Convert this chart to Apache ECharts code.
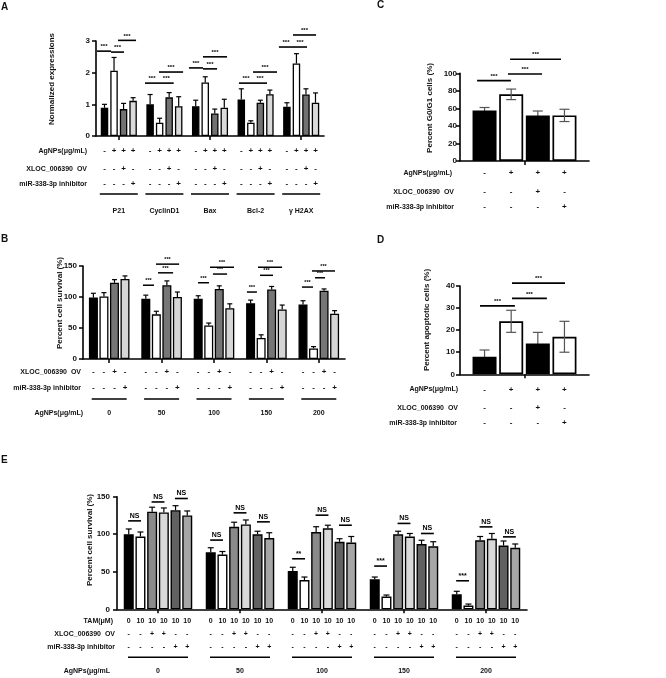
<!DOCTYPE html>
<html><head><meta charset="utf-8">
<script src="https://cdn.jsdelivr.net/npm/echarts@6/dist/echarts.min.js"></script>
<style>html,body{margin:0;padding:0;background:#fff}#c{width:666px;height:678px}</style>
</head><body><div id="c"></div>
<script>
const FONT = '"Liberation Sans", Arial, Helvetica, sans-serif';

// ---------- Panel A ----------
const A_categories = ['P21', 'CyclinD1', 'Bax', 'Bcl-2', 'γ H2AX'];
const A_control = [0.89, 1.00, 0.94, 1.15, 0.92];
const A_agnps = [2.06, 0.42, 1.69, 0.42, 2.29];
const A_xlocOV = [0.85, 1.22, 0.71, 1.05, 1.31];
const A_inhibitor = [1.11, 0.94, 0.89, 1.32, 1.05];
const A_control_err = [0.11, 0.31, 0.19, 0.34, 0.13];
const A_agnps_err = [0.42, 0.14, 0.18, 0.06, 0.31];
const A_xlocOV_err = [0.18, 0.15, 0.14, 0.08, 0.18];
const A_inhibitor_err = [0.10, 0.30, 0.27, 0.13, 0.31];
const A_yTicks = [0, 1, 2, 3];
const A_row_agnps = ['-', '+', '+', '+'];
const A_row_xloc = ['-', '-', '+', '-'];
const A_row_mir = ['-', '-', '-', '+'];
// [group, fromBar, toBar, y]
const A_sig = [
  [0, -0.79, 0.68, 2.68], [0, 0.68, 2.05, 2.65], [0, 1.42, 3.31, 3.02],
  [1, -0.54, 0.93, 1.67], [1, 0.93, 2.48, 1.67], [1, 0.93, 3.46, 2.02],
  [2, -0.71, 0.76, 2.15], [2, 0.76, 2.24, 2.12], [2, 0.76, 3.29, 2.50],
  [3, -0.25, 1.23, 1.67], [3, 1.23, 2.70, 1.67], [3, 1.23, 3.75, 2.02],
  [4, -0.84, 0.64, 2.81], [4, 0.64, 2.11, 2.81], [4, 0.64, 3.06, 3.19]
];
const A_sigLabels = A_sig.map(() => '***');

// ---------- Panel B ----------
const B_categories = ['0', '50', '100', '150', '200'];
const B_control = [99, 97, 97, 90, 88];
const B_agnps = [101, 72, 54, 34, 17];
const B_xlocOV = [123, 119, 113, 112, 110];
const B_inhibitor = [129, 100, 82, 80, 73];
const B_control_err = [7, 6, 5, 5, 6];
const B_agnps_err = [6, 5, 4, 5, 3];
const B_xlocOV_err = [5, 7, 5, 5, 3];
const B_inhibitor_err = [5, 8, 7, 7, 5];
const B_yTicks = [0, 50, 100, 150];
const B_row_xloc = ['-', '-', '+', '-'];
const B_row_mir = ['-', '-', '-', '+'];
const B_sig = [
  [1, -0.27, 0.78, 119], [1, 1.16, 2.59, 139], [1, 0.97, 3.16, 153],
  [2, -0.02, 1.02, 123], [2, 1.40, 2.74, 137], [2, 1.12, 3.40, 148],
  [3, -0.35, 0.60, 108], [3, 0.89, 2.13, 135], [3, 0.70, 2.99, 148],
  [4, -0.10, 0.95, 116], [4, 1.14, 2.09, 131], [4, 0.85, 3.04, 142]
];
const B_sigLabels = B_sig.map(() => '***');

// ---------- Panel C ----------
const C_values = [57.5, 76, 52, 52];
const C_err = [3.5, 6, 5, 7];
const C_yTicks = [0, 20, 40, 60, 80, 100];
const C_row_agnps = ['-', '+', '+', '+'];
const C_row_xloc = ['-', '-', '+', '-'];
const C_row_mir = ['-', '-', '-', '+'];
const C_sig = [[0, -0.28, 0.99, 91.6], [0, 0.88, 2.16, 99.2], [0, 0.96, 2.87, 116]];
const C_sigLabels = ['***', '***', '***'];

// ---------- Panel D ----------
const D_values = [8, 24, 14, 17];
const D_err = [3, 5, 5, 7];
const D_yTicks = [0, 10, 20, 30, 40];
const D_row_agnps = ['-', '+', '+', '+'];
const D_row_xloc = ['-', '-', '+', '-'];
const D_row_mir = ['-', '-', '-', '+'];
const D_sig = [[0, -0.17, 1.14, 31], [0, 1.03, 2.34, 34.4], [0, 1.03, 3.02, 41.3]];
const D_sigLabels = ['***', '***', '***'];

// ---------- Panel E ----------
const E_categories = ['0', '50', '100', '150', '200'];
const E_s1 = [100, 76, 51, 40, 20];
const E_s2 = [97, 73, 39, 17, 5];
const E_s3 = [130, 110, 103, 100, 92];
const E_s4 = [129, 113, 108, 97, 94];
const E_s5 = [132, 100, 90, 87, 85];
const E_s6 = [125, 95, 89, 84, 82];
const E_s1_err = [7, 6, 5, 3, 4];
const E_s2_err = [6, 4, 4, 2, 2];
const E_s3_err = [6, 6, 7, 4, 5];
const E_s4_err = [6, 6, 4, 4, 7];
const E_s5_err = [6, 4, 4, 5, 6];
const E_s6_err = [6, 7, 8, 6, 5];
const E_yTicks = [0, 50, 100, 150];
const E_row_tam = ['0', '10', '10', '10', '10', '10'];
const E_row_xloc = ['-', '-', '+', '+', '-', '-'];
const E_row_mir = ['-', '-', '-', '-', '+', '+'];
const E_sig = [
  [0, -0.05, 1.05, 117.8], [0, 1.95, 3.05, 143], [0, 3.95, 5.05, 147.6],
  [1, -0.05, 1.05, 92.2], [1, 1.95, 3.05, 128.5], [1, 3.95, 5.05, 116.5],
  [2, -0.05, 1.05, 67.3], [2, 1.95, 3.05, 125.4], [2, 3.95, 5.05, 112],
  [3, -0.05, 1.05, 57.6], [3, 1.95, 3.05, 114.4], [3, 3.95, 5.05, 101],
  [4, -0.05, 1.05, 38], [4, 1.95, 3.05, 109.8], [4, 3.95, 5.05, 96.5]
];
const E_sigLabels = ['NS', 'NS', 'NS', 'NS', 'NS', 'NS', '**', 'NS', 'NS', '***', 'NS', 'NS', '***', 'NS', 'NS'];

// ---------- helpers ----------
function offX(i, n, step) { return (i - (n - 1) / 2) * step; }

function barSeries(gi, values, color, w, gapPct, bw) {
  return {
    type: 'bar', xAxisIndex: gi, yAxisIndex: gi, data: values,
    barWidth: w, barGap: gapPct + '%',
    itemStyle: { color: color, borderColor: '#000', borderWidth: bw || 1.3 },
    animation: false, silent: true, z: 2
  };
}

function errorSeries(gi, n, step, capW, both, color, vals, errs, onlyIdx, z) {
  const data = [];
  vals.forEach((arr, i) => {
    if (onlyIdx && onlyIdx.indexOf(i) < 0) return;
    arr.forEach((v, g) => data.push([g, i, v, errs[i][g]]));
  });
  return {
    type: 'custom', xAxisIndex: gi, yAxisIndex: gi, clip: false, z: z || 5, silent: true, animation: false,
    encode: { x: 0, y: 2 }, data: data,
    renderItem: (p, api) => {
      const g = api.value(0), i = api.value(1), v = api.value(2), e = api.value(3);
      const base = api.coord([g, v]);
      const x = base[0] + offX(i, n, step);
      const yTop = api.coord([g, v + e])[1];
      const yBot = both ? api.coord([g, v - e])[1] : base[1];
      const st = { stroke: color, lineWidth: 1.2 };
      const ch = [
        { type: 'line', shape: { x1: x, y1: yTop, x2: x, y2: yBot }, style: st },
        { type: 'line', shape: { x1: x - capW / 2, y1: yTop, x2: x + capW / 2, y2: yTop }, style: st }
      ];
      if (both) ch.push({ type: 'line', shape: { x1: x - capW / 2, y1: yBot, x2: x + capW / 2, y2: yBot }, style: st });
      return { type: 'group', children: ch };
    }
  };
}

function sigSeries(gi, n, step, sig, labels, fontSize, lw) {
  return {
    type: 'custom', xAxisIndex: gi, yAxisIndex: gi, clip: false, z: 6, silent: true, animation: false,
    encode: { x: 0, y: 3 }, data: sig,
    renderItem: (p, api) => {
      const g = api.value(0), a = api.value(1), b = api.value(2), y = api.value(3);
      const c = api.coord([g, y]);
      const x1 = c[0] + offX(a, n, step), x2 = c[0] + offX(b, n, step);
      return {
        type: 'group', children: [
          { type: 'line', shape: { x1: x1, y1: c[1], x2: x2, y2: c[1] }, style: { stroke: '#000', lineWidth: lw } },
          { type: 'text', x: (x1 + x2) / 2, y: c[1] - 1.5,
            style: { text: labels[p.dataIndex], font: 'bold ' + fontSize + 'px ' + FONT, fill: '#000', align: 'center', verticalAlign: 'bottom' } }
        ]
      };
    }
  };
}

function rowsSeries(gi, n, step, groupCount, rows, offsets, fontSize, underline, groupLabels, groupLabelOff, groupFont) {
  const data = [];
  for (let g = 0; g < groupCount; g++) data.push([g, 0]);
  return {
    type: 'custom', xAxisIndex: gi, yAxisIndex: gi, clip: false, z: 6, silent: true, animation: false,
    encode: { x: 0, y: 1 }, data: data,
    renderItem: (p, api) => {
      const g = api.value(0);
      const c = api.coord([g, 0]);
      const ch = [];
      rows.forEach((row, r) => {
        row.forEach((t, i) => {
          ch.push({ type: 'text', x: c[0] + offX(i, n, step), y: c[1] + offsets[r],
            style: { text: t, font: 'bold ' + fontSize + 'px ' + FONT, fill: '#111', align: 'center', verticalAlign: 'middle' } });
        });
      });
      if (underline) {
        ch.push({ type: 'line', shape: { x1: c[0] - underline.w / 2, y1: c[1] + underline.off, x2: c[0] + underline.w / 2, y2: c[1] + underline.off },
          style: { stroke: '#000', lineWidth: 1.5 } });
      }
      if (groupLabels) {
        ch.push({ type: 'text', x: c[0], y: c[1] + groupLabelOff,
          style: { text: groupLabels[g], font: 'bold ' + groupFont + 'px ' + FONT, fill: '#111', align: 'center', verticalAlign: 'middle' } });
      }
      return { type: 'group', children: ch };
    }
  };
}

function xAx(gi, cats) {
  return {
    type: 'category', gridIndex: gi, data: cats,
    axisLine: { show: true, lineStyle: { color: '#000', width: 1.6 } },
    axisTick: { show: true, alignWithLabel: true, length: 4, lineStyle: { color: '#000', width: 1.5 } },
    axisLabel: { show: false }, splitLine: { show: false }
  };
}
function yAx(gi, ticks, margin) {
  return {
    type: 'value', gridIndex: gi, min: ticks[0], max: ticks[ticks.length - 1], interval: ticks[1] - ticks[0],
    axisLine: { show: true, lineStyle: { color: '#000', width: 1.6 } },
    axisTick: { show: true, length: 4, lineStyle: { color: '#000', width: 1.5 } },
    axisLabel: { show: true, color: '#111', fontFamily: FONT, fontWeight: 'bold', fontSize: 8, margin: margin },
    splitLine: { show: false }
  };
}

function txt(x, y, text, size, align, rot) {
  return {
    type: 'text', x: x, y: y, rotation: rot || 0, silent: true,
    style: { text: text, font: 'bold ' + size + 'px ' + FONT, fill: '#111', align: align || 'right', verticalAlign: 'middle',
      textAlign: align || 'right', textVerticalAlign: 'middle' }
  };
}

// geometry
const A_w = 7.5, A_gap = 27, A_step = A_w * (1 + A_gap / 100);
const B_w = 9, B_gap = 17, B_step = B_w * (1 + B_gap / 100);
const C_w = 24, C_gap = 11, C_step = C_w * (1 + C_gap / 100);
const E_w = 10, E_gap = 17, E_step = E_w * (1 + E_gap / 100);

const series = [];
// A
const A_vals = [A_control, A_agnps, A_xlocOV, A_inhibitor];
const A_errs = [A_control_err, A_agnps_err, A_xlocOV_err, A_inhibitor_err];
const A_colors = ['#000000', '#ffffff', '#727272', '#dadada'];
A_vals.forEach((v, i) => series.push(barSeries(0, v, A_colors[i], A_w, A_gap)));
series.push(errorSeries(0, 4, A_step, 5, false, '#000', A_vals, A_errs));
series.push(sigSeries(0, 4, A_step, A_sig, A_sigLabels, 6, 1.6));
series.push(rowsSeries(0, 4, A_step, 5, [A_row_agnps, A_row_xloc, A_row_mir], [15, 33, 48], 8,
  { off: 58, w: 38 }, A_categories, 75, 7));
// B
const B_vals = [B_control, B_agnps, B_xlocOV, B_inhibitor];
const B_errs = [B_control_err, B_agnps_err, B_xlocOV_err, B_inhibitor_err];
const B_colors = ['#000000', '#ffffff', '#767676', '#d6d6d6'];
B_vals.forEach((v, i) => series.push(barSeries(1, v, B_colors[i], B_w, B_gap)));
series.push(errorSeries(1, 4, B_step, 5, false, '#000', B_vals, B_errs));
series.push(sigSeries(1, 4, B_step, B_sig, B_sigLabels, 5.5, 1.5));
series.push(rowsSeries(1, 4, B_step, 5, [B_row_xloc, B_row_mir], [13, 29], 8,
  { off: 40, w: 35 }, B_categories, 54, 7));
// C
const C_colors = ['#000000', '#ffffff', '#000000', '#ffffff'];
const C_vals = C_values.map(v => [v]);
const C_errs = C_err.map(v => [v]);
C_vals.forEach((v, i) => series.push(barSeries(2, v, C_colors[i], C_w, C_gap, 1.7)));
series.push(errorSeries(2, 4, C_step, 10, true, '#555', C_vals, C_errs, [0, 2], 1));
series.push(errorSeries(2, 4, C_step, 10, true, '#555', C_vals, C_errs, [1, 3], 5));
series.push(sigSeries(2, 4, C_step, C_sig, C_sigLabels, 6, 1.6));
series.push(rowsSeries(2, 4, C_step, 1, [C_row_agnps, C_row_xloc, C_row_mir], [11.7, 30.7, 46], 8, null, null));
// D
const D_vals = D_values.map(v => [v]);
const D_errs = D_err.map(v => [v]);
D_vals.forEach((v, i) => series.push(barSeries(3, v, C_colors[i], C_w, C_gap, 1.7)));
series.push(errorSeries(3, 4, C_step, 10, true, '#555', D_vals, D_errs, [0, 2], 1));
series.push(errorSeries(3, 4, C_step, 10, true, '#555', D_vals, D_errs, [1, 3], 5));
series.push(sigSeries(3, 4, C_step, D_sig, D_sigLabels, 6, 1.6));
series.push(rowsSeries(3, 4, C_step, 1, [D_row_agnps, D_row_xloc, D_row_mir], [15, 33.4, 48.7], 8, null, null));
// E
const E_vals = [E_s1, E_s2, E_s3, E_s4, E_s5, E_s6];
const E_errs = [E_s1_err, E_s2_err, E_s3_err, E_s4_err, E_s5_err, E_s6_err];
const E_colors = ['#000000', '#ffffff', '#8a8a8a', '#d9d9d9', '#616161', '#a6a6a6'];
E_vals.forEach((v, i) => series.push(barSeries(4, v, E_colors[i], E_w, E_gap, 1.4)));
series.push(errorSeries(4, 6, E_step, 6, false, '#000', E_vals, E_errs));
series.push(sigSeries(4, 6, E_step, E_sig, E_sigLabels, 7, 1.6));
series.push(rowsSeries(4, 6, E_step, 5, [E_row_tam, E_row_xloc, E_row_mir], [11.7, 25, 37.4], 7,
  { off: 48, w: 60 }, E_categories, 61.4, 7));

const R = Math.PI / 2;
const graphics = [
  txt(1, 7, 'A', 10, 'left'), txt(1, 239, 'B', 10, 'left'), txt(377, 5, 'C', 10, 'left'),
  txt(377, 240, 'D', 10, 'left'), txt(1, 460, 'E', 10, 'left'),
  txt(52, 79, 'Normalized expressions', 8, 'center', R),
  txt(60, 303, 'Percent cell survival (%)', 8, 'center', R),
  txt(430, 108, 'Percent G0/G1 cells (%)', 8, 'center', R),
  txt(427, 320, 'Percent apoptotic cells (%)', 8, 'center', R),
  txt(90, 540, 'Percent cell survival (%)', 8, 'center', R),
  // A rows
  txt(87, 151, 'AgNPs(μg/mL)', 7), txt(87, 169, 'XLOC_006390  OV', 7), txt(87, 184, 'miR-338-3p inhibitor', 7),
  // B rows
  txt(81, 372, 'XLOC_006390  OV', 7), txt(81, 388, 'miR-338-3p inhibitor', 7), txt(83, 413, 'AgNPs(μg/mL)', 7),
  // C rows
  txt(452, 172.7, 'AgNPs(μg/mL)', 7), txt(454, 191.7, 'XLOC_006390  OV', 7), txt(454, 207, 'miR-338-3p inhibitor', 7),
  // D rows
  txt(458, 389.3, 'AgNPs(μg/mL)', 7), txt(458, 407.7, 'XLOC_006390  OV', 7), txt(457, 423, 'miR-338-3p inhibitor', 7),
  // E rows
  txt(113, 621, 'TAM(μM)', 7), txt(115, 634.3, 'XLOC_006390  OV', 7), txt(115, 646.7, 'miR-338-3p inhibitor', 7),
  txt(110, 670.7, 'AgNPs(μg/mL', 7)
];

const chart = echarts.init(document.getElementById('c'), null, { renderer: 'canvas' });
chart.setOption({
  animation: false,
  backgroundColor: '#ffffff',
  textStyle: { fontFamily: FONT },
  grid: [
    { left: 96, top: 41, width: 228, height: 95 },
    { left: 83, top: 266, width: 262, height: 93 },
    { left: 460, top: 73.3, width: 129, height: 87.7 },
    { left: 460, top: 286, width: 129, height: 88.3 },
    { left: 117, top: 496.7, width: 410, height: 112.6 }
  ],
  xAxis: [xAx(0, A_categories), xAx(1, B_categories), xAx(2, ['']), xAx(3, ['']), xAx(4, E_categories)],
  yAxis: [yAx(0, A_yTicks, 6), yAx(1, B_yTicks, 6), yAx(2, C_yTicks, 3), yAx(3, D_yTicks, 5), yAx(4, E_yTicks, 7)],
  series: series,
  graphic: graphics
});
</script></body></html>
